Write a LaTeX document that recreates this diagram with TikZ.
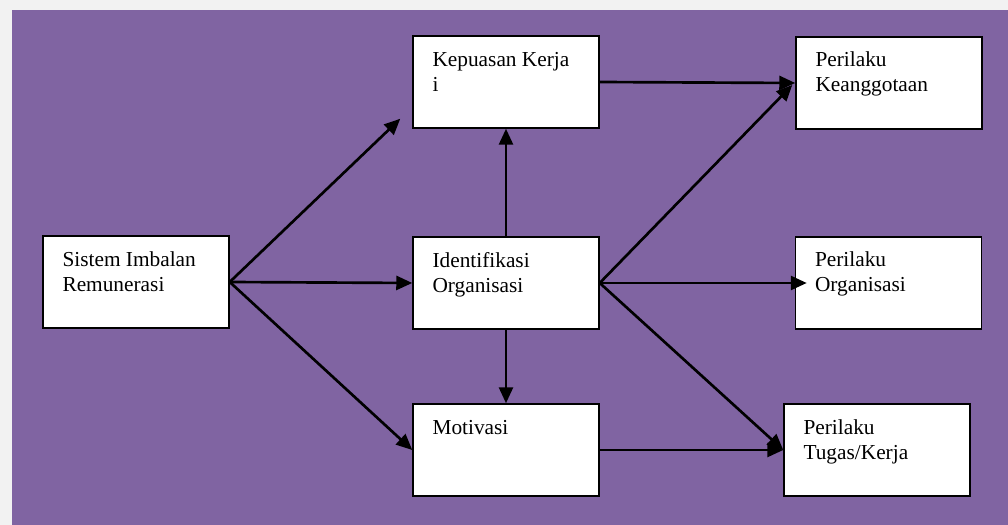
\documentclass[tikz,border=0pt]{standalone}
\usepackage{fontspec}
\setmainfont{Liberation Serif}
\usetikzlibrary{arrows.meta}
\definecolor{bggray}{HTML}{F2F2F2}
\definecolor{bgpurple}{HTML}{8064A2}
\begin{document}
\begin{tikzpicture}[x=0.75pt,y=0.75pt,
  box/.style={draw=black,fill=white,line width=1.1pt,minimum width=139.5pt,minimum height=69pt,inner sep=0pt},
  lbl/.style={anchor=north west,inner sep=0pt,align=left,font=\fontsize{16}{19}\selectfont},
  conn/.style={line width=2pt,-{Triangle[length=12pt,width=10.5pt]}}]
\useasboundingbox (0,0) rectangle (1008,525);
\fill[bggray] (0,0) rectangle (1008,525);
\fill[bgpurple] (12,0) rectangle (1008,515);
% boxes
\node[box] (sis) at (136,243) {};
\node[box] (kep) at (506,443) {};
\node[box] (idt) at (506,242) {};
\node[box] (mot) at (506,75) {};
\node[box] (kea) at (889,442) {};
\node[box] (org) at (888.5,242) {};
\node[box] (tug) at (877,75) {};
% labels
\newcommand{\fst}{\rule{0pt}{11pt}}
\node[lbl] (tsis) at ([shift={(20,-16)}]sis.north west) {\fst Sistem Imbalan\\Remunerasi};
\node[lbl] (tkep) at ([shift={(20,-16)}]kep.north west) {\fst Kepuasan Kerja\\i};
\node[lbl] (tidt) at ([shift={(20,-16)}]idt.north west) {\fst Identifikasi\\Organisasi};
\node[lbl] (tmot) at ([shift={(20,-16)}]mot.north west) {\fst Motivasi};
\node[lbl] (tkea) at ([shift={(20,-15)}]kea.north west) {\fst Perilaku\\Keanggotaan};
\node[lbl] (torg) at ([shift={(20,-15)}]org.north west) {\fst Perilaku\\Organisasi};
\node[lbl] (ttug) at ([shift={(20,-16)}]tug.north west) {\fst Perilaku\\Tugas/Kerja};
% connectors
\draw[conn] (sis.east) -- ([shift={(-12,10)}]kep.south west);
\draw[conn] (sis.east) -- (idt.west);
\draw[conn] (sis.east) -- (mot.west);
\draw[conn] (idt.north) -- (kep.south);
\draw[conn] (idt.south) -- (mot.north);
\draw[conn] (kep.east) -- (kea.west);
\draw[conn] (idt.east) -- ([shift={(-3,-2)}]kea.west);
\draw[conn] (idt.east) -- ([shift={(12,0)}]org.west);
\draw[conn] (idt.east) -- (tug.west);
\draw[conn] (mot.east) -- (tug.west);
\end{tikzpicture}
\end{document}
